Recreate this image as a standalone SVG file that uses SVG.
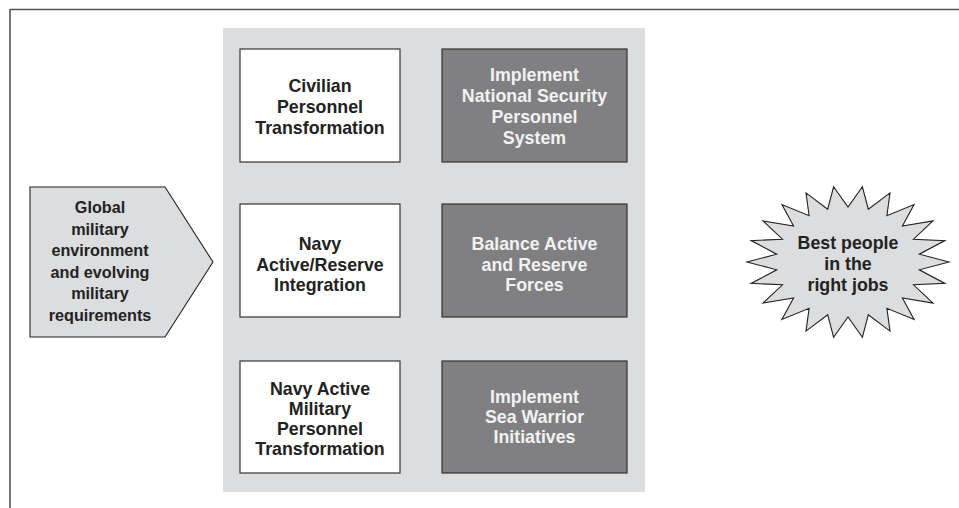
<svg xmlns="http://www.w3.org/2000/svg" width="959" height="508" viewBox="0 0 959 508">
<style>
.frame{stroke:#555;stroke-width:1.6;fill:none}
.panel{fill:#dcdddf}
.wbox{fill:#fff;stroke:#333;stroke-width:1.2}
.dbox{fill:#808083;stroke:#333;stroke-width:1.2}
.shape{fill:#dcdddf;stroke:#222;stroke-width:1.1}
text{font-family:"Liberation Sans",Arial,sans-serif;font-weight:bold;text-anchor:middle}
.bt{font-size:17.8px;fill:#222}
.dt{font-size:17.8px;fill:#f2f2f2}
.at{font-size:16.2px;fill:#222}
</style>
<rect width="959" height="508" fill="#fff"/>
<path class="frame" d="M10,9.5 H959 M10,9 V508"/>
<rect class="panel" x="223" y="28" width="422" height="464"/>
<g id="input">
<polygon class="shape" points="30,187 165,187 213,262 165,337 30,337"/>
<text class="at" x="100" y="213">Global</text>
<text class="at" x="100" y="234.5">military</text>
<text class="at" x="100" y="256">environment</text>
<text class="at" x="100" y="277.5">and evolving</text>
<text class="at" x="100" y="299">military</text>
<text class="at" x="100" y="320.5">requirements</text>
</g>
<g id="civilian">
<rect class="wbox" x="240" y="49" width="160" height="113"/>
<text class="bt" x="320" y="92">Civilian</text>
<text class="bt" x="320" y="113">Personnel</text>
<text class="bt" x="320" y="134">Transformation</text>
</g>
<g id="nsps">
<rect class="dbox" x="442" y="49" width="185" height="113"/>
<text class="dt" x="534.5" y="81">Implement</text>
<text class="dt" x="534.5" y="102">National Security</text>
<text class="dt" x="534.5" y="123">Personnel</text>
<text class="dt" x="534.5" y="144">System</text>
</g>
<g id="integration">
<rect class="wbox" x="240" y="204" width="160" height="113"/>
<text class="bt" x="320" y="250">Navy</text>
<text class="bt" x="320" y="270.5">Active/Reserve</text>
<text class="bt" x="320" y="291">Integration</text>
</g>
<g id="balance">
<rect class="dbox" x="442" y="204" width="185" height="113"/>
<text class="dt" x="534.5" y="250">Balance Active</text>
<text class="dt" x="534.5" y="270.5">and Reserve</text>
<text class="dt" x="534.5" y="291">Forces</text>
</g>
<g id="military">
<rect class="wbox" x="240" y="361" width="160" height="112"/>
<text class="bt" x="320" y="395">Navy Active</text>
<text class="bt" x="320" y="415">Military</text>
<text class="bt" x="320" y="435">Personnel</text>
<text class="bt" x="320" y="455">Transformation</text>
</g>
<g id="seawarrior">
<rect class="dbox" x="442" y="361" width="185" height="112"/>
<text class="dt" x="534.5" y="403">Implement</text>
<text class="dt" x="534.5" y="423">Sea Warrior</text>
<text class="dt" x="534.5" y="443">Initiatives</text>
</g>
<g id="outcome">
<polygon class="shape" points="949,262 919.3,254.2 944.9,240.6 913.5,239.2 933,220.9 902.4,226 914.1,204.6 886.9,215.7 890,192.9 868.3,209.2 862.4,186.8 848,207 833.6,186.8 827.7,209.2 806,192.9 809.1,215.7 781.9,204.6 793.6,226 763,220.9 782.5,239.2 751.1,240.6 776.7,254.2 747,262 776.7,269.8 751.1,283.4 782.5,284.8 763,303.1 793.6,298 781.9,319.4 809.1,308.3 806,331.1 827.7,314.8 833.6,337.2 848,317 862.4,337.2 868.3,314.8 890,331.1 886.9,308.3 914.1,319.4 902.4,298 933,303.1 913.5,284.8 944.9,283.4 919.3,269.8"/>
<text class="bt" x="848" y="249">Best people</text>
<text class="bt" x="848" y="270">in the</text>
<text class="bt" x="848" y="291">right jobs</text>
</g>
<g id="connectors"></g>
</svg>
